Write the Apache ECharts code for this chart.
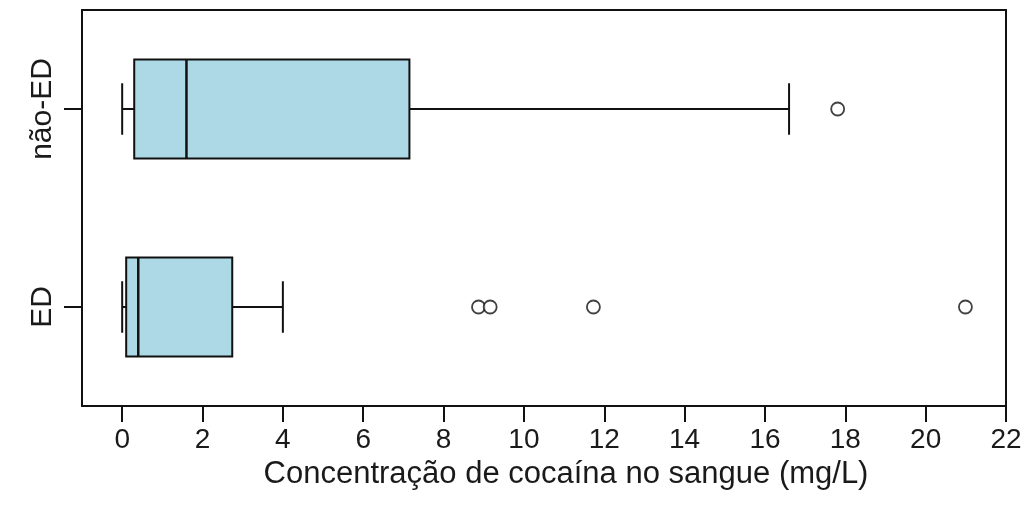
<!DOCTYPE html>
<html>
<head>
<meta charset="utf-8">
<script src="https://cdn.jsdelivr.net/npm/echarts@6/dist/echarts.min.js"></script>
<style>
html,body{margin:0;padding:0;background:#fff;}
#c{width:1027px;height:527px;}
</style>
</head>
<body>
<div id="c"></div>
<script>
// Categories (bottom to top)
var categories = ['ED', 'não-ED'];
// Box statistics: [lower whisker, Q1, median, Q3, upper whisker]
var boxED    = [0, 0.10, 0.40, 2.74, 4.0];
var boxNaoED = [0, 0.30, 1.60, 7.15, 16.6];
// Outliers
var outliersED    = [8.87, 9.16, 11.73, 20.99];
var outliersNaoED = [17.81];
// Tick labels
var xTicks = [0, 2, 4, 6, 8, 10, 12, 14, 16, 18, 20, 22];
var xTitle = 'Concentração de cocaína no sangue (mg/L)';

var boxData = [
  [0].concat(boxED),
  [1].concat(boxNaoED)
];
var outlierData = [];
outliersED.forEach(function (v) { outlierData.push([v, 0]); });
outliersNaoED.forEach(function (v) { outlierData.push([v, 1]); });

var FONT = 'Liberation Sans, Arial, sans-serif';
var TXT = '#1a1a1a';

function renderBox(params, api) {
  var cat = api.value(0);
  var lo = api.value(1), q1 = api.value(2), md = api.value(3), q3 = api.value(4), hi = api.value(5);
  var band = api.size([0, 1])[1];
  var hb = band * 0.25;   // half box height
  var hc = band * 0.13;   // half staple height
  var pLo = api.coord([lo, cat]);
  var pQ1 = api.coord([q1, cat]);
  var pMd = api.coord([md, cat]);
  var pQ3 = api.coord([q3, cat]);
  var pHi = api.coord([hi, cat]);
  var y = pMd[1];
  var ls = { stroke: '#111', lineWidth: 2, fill: null };
  return {
    type: 'group',
    children: [
      { type: 'line', shape: { x1: pLo[0], y1: y, x2: pQ1[0], y2: y }, style: ls },
      { type: 'line', shape: { x1: pQ3[0], y1: y, x2: pHi[0], y2: y }, style: ls },
      { type: 'line', shape: { x1: pLo[0], y1: y - hc, x2: pLo[0], y2: y + hc }, style: ls },
      { type: 'line', shape: { x1: pHi[0], y1: y - hc, x2: pHi[0], y2: y + hc }, style: ls },
      { type: 'rect', shape: { x: pQ1[0], y: y - hb, width: pQ3[0] - pQ1[0], height: 2 * hb },
        style: { fill: '#ADD8E6', stroke: '#111', lineWidth: 2 } },
      { type: 'line', shape: { x1: pMd[0], y1: y - hb, x2: pMd[0], y2: y + hb },
        style: { stroke: '#111', lineWidth: 2.5 } }
    ]
  };
}

var chart = echarts.init(document.getElementById('c'), null, { renderer: 'canvas' });
chart.setOption({
  backgroundColor: '#fff',
  animation: false,
  grid: {
    left: 82, top: 10, width: 924, height: 396,
    show: true, borderColor: '#111', borderWidth: 2, backgroundColor: 'transparent'
  },
  xAxis: {
    type: 'value',
    min: -1, max: 22,
    axisLine: { show: false, onZero: false },
    splitLine: { show: false },
    axisTick: {
      show: true, length: 16, customValues: xTicks,
      lineStyle: { color: '#111', width: 2 }
    },
    axisLabel: {
      customValues: xTicks, margin: 20,
      fontFamily: FONT, fontSize: 28, color: TXT
    },
    name: xTitle,
    nameLocation: 'middle',
    nameGap: 53,
    nameTextStyle: { fontFamily: FONT, fontSize: 31, color: TXT, padding: [0, 0, 0, 44] }
  },
  yAxis: {
    type: 'category',
    data: categories,
    boundaryGap: true,
    axisLine: { show: false, onZero: false },
    splitLine: { show: false },
    axisTick: { show: true, alignWithLabel: true, length: 18, lineStyle: { color: '#111', width: 2 } },
    axisLabel: {
      rotate: 90, margin: 24,
      fontFamily: FONT, fontSize: 30, color: TXT
    }
  },
  series: [
    {
      type: 'custom',
      renderItem: renderBox,
      encode: { x: [1, 2, 3, 4, 5], y: 0 },
      data: boxData,
      z: 2
    },
    {
      type: 'scatter',
      data: outlierData,
      symbol: 'circle',
      symbolSize: 13,
      itemStyle: { color: '#fff', borderColor: '#111', borderWidth: 1.8 },
      z: 3
    }
  ]
});
</script>
</body>
</html>
